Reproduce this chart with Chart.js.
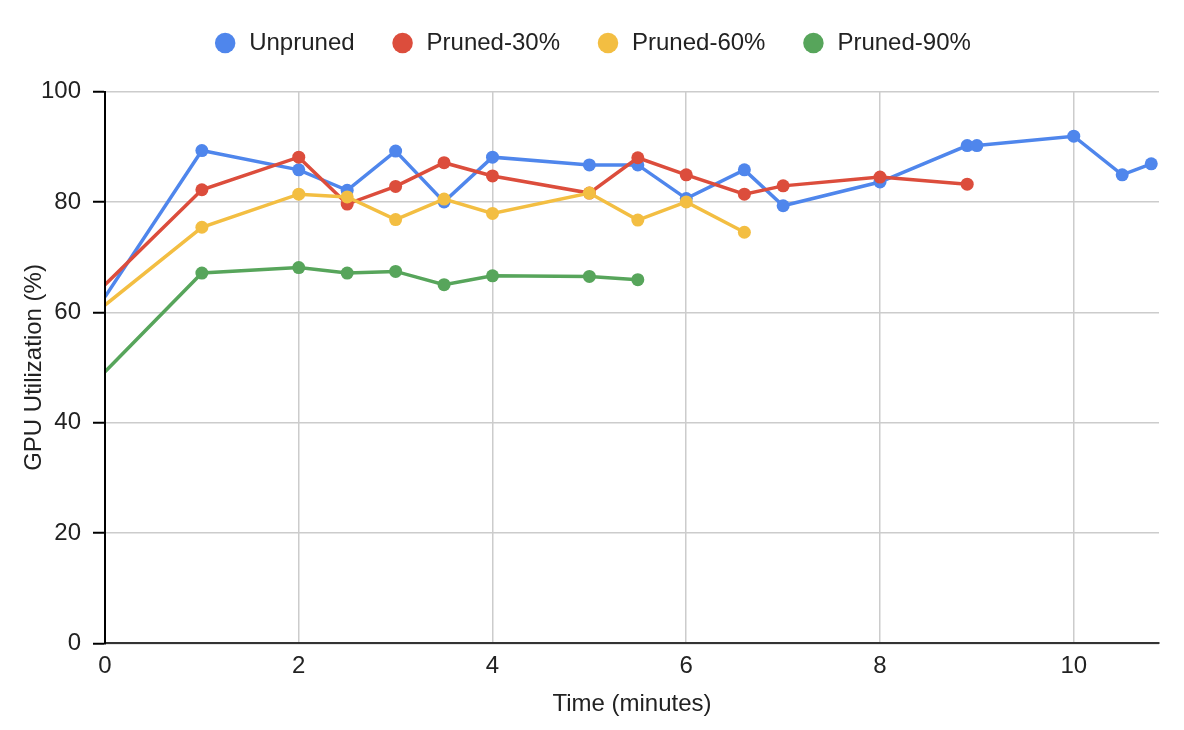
<!DOCTYPE html>
<html>
<head>
<meta charset="utf-8">
<script src="https://cdn.jsdelivr.net/npm/chart.js@4/dist/chart.umd.min.js"></script>
<style>
  body { margin: 0; background: #fff; }
  #wrap { width: 1184px; height: 730px; }
</style>
</head>
<body>
<div id="wrap"><canvas id="gpuChart" width="1184" height="730"></canvas></div>
<script>
// Time (minutes) / GPU utilization (%) per run
const unprunedTime = [0, 1, 2, 2.5, 3, 3.5, 4, 5, 5.5, 6, 6.6, 7, 8, 8.9, 9, 10, 10.5, 10.8];
const unprunedUtil = [62.8, 89.3, 85.8, 82.1, 89.2, 80.0, 88.1, 86.7, 86.7, 80.6, 85.8, 79.3, 83.6, 90.2, 90.2, 91.9, 84.9, 86.9];

const pruned30Time = [0, 1, 2, 2.5, 3, 3.5, 4, 5, 5.5, 6, 6.6, 7, 8, 8.9];
const pruned30Util = [65.0, 82.2, 88.1, 79.6, 82.8, 87.1, 84.7, 81.6, 88.0, 84.9, 81.4, 82.9, 84.5, 83.2];

const pruned60Time = [0, 1, 2, 2.5, 3, 3.5, 4, 5, 5.5, 6, 6.6];
const pruned60Util = [61.3, 75.4, 81.4, 80.9, 76.8, 80.5, 77.9, 81.6, 76.7, 80.0, 74.5];

const pruned90Time = [0, 1, 2, 2.5, 3, 3.5, 4, 5, 5.5];
const pruned90Util = [49.2, 67.1, 68.1, 67.1, 67.4, 65.0, 66.6, 66.5, 65.9];

const seriesNames = ["Unpruned", "Pruned-30%", "Pruned-60%", "Pruned-90%"];
const seriesColors = ["#4f86ec", "#dc4d3c", "#f3be42", "#57a55b"];

const xTicks = [0, 2, 4, 6, 8, 10];
const yTicks = [0, 20, 40, 60, 80, 100];

Chart.defaults.font.family = "'Liberation Sans', Arial, sans-serif";
Chart.defaults.color = "#222";

const toPoints = (xs, ys) => xs.map((x, i) => ({ x: x, y: ys[i] }));

const makeSet = (i, xs, ys) => ({
  label: seriesNames[i],
  data: toPoints(xs, ys),
  borderColor: seriesColors[i],
  backgroundColor: seriesColors[i],
  borderWidth: 3.5,
  pointRadius: (c) => (c.dataIndex === 0 ? 0 : 6.5), // no marker on the starting point
  pointHoverRadius: 6.5,
  pointBorderWidth: 0,
  pointStyle: "circle",
  tension: 0,
  order: 3 - i, // later series drawn on top
});

// extra room between the legend and the plot
const legendGap = {
  id: "legendGap",
  beforeLayout(chart) {
    const lg = chart.legend;
    if (lg && !lg._gapPatched) {
      const fit = lg.fit;
      lg.fit = function () {
        fit.call(this);
        this.height += 26.5;
      };
      lg._gapPatched = true;
    }
  },
};

const ctx = document.getElementById("gpuChart").getContext("2d");
new Chart(ctx, {
  type: "line",
  data: {
    datasets: [
      makeSet(0, unprunedTime, unprunedUtil),
      makeSet(1, pruned30Time, pruned30Util),
      makeSet(2, pruned60Time, pruned60Util),
      makeSet(3, pruned90Time, pruned90Util),
    ],
  },
  plugins: [legendGap],
  options: {
    responsive: false,
    animation: false,
    layout: { padding: { top: -5, left: 0, right: 0, bottom: 11 } },
    plugins: {
      legend: {
        position: "top",
        labels: {
          usePointStyle: true,
          boxWidth: 24,
          boxHeight: 14.5,
          padding: 36,
          color: "#222",
          font: { size: 24 },
          sort: (a, b) => a.datasetIndex - b.datasetIndex,
        },
      },
      tooltip: { enabled: false },
    },
    scales: {
      x: {
        type: "linear",
        min: 0,
        max: 10.88,
        afterBuildTicks: (s) => { s.ticks = xTicks.map((v) => ({ value: v })); },
        afterFit: (s) => { s.paddingRight = 25; },
        ticks: { padding: 9, color: "#222", font: { size: 24 } },
        grid: { color: "#cccccc", lineWidth: 1.5, drawTicks: false },
        border: { color: "#333", width: 2, z: 1 },
        title: {
          display: true,
          text: "Time (minutes)",
          color: "#222",
          font: { size: 24 },
          padding: { top: 0, bottom: 0 },
        },
      },
      y: {
        min: 0,
        max: 100,
        afterBuildTicks: (s) => { s.ticks = yTicks.map((v) => ({ value: v })); },
        afterFit: (s) => { s.width = 105; },
        ticks: { padding: 12, color: "#222", font: { size: 24 } },
        grid: { color: "#cccccc", lineWidth: 1.5, tickLength: 12, tickColor: "#000", tickWidth: 2 },
        border: { color: "#000", width: 2, z: 1 },
        title: {
          display: true,
          text: "GPU Utilization (%)",
          color: "#222",
          font: { size: 24 },
          padding: { top: 20, bottom: 0 },
        },
      },
    },
  },
});
</script>
</body>
</html>
